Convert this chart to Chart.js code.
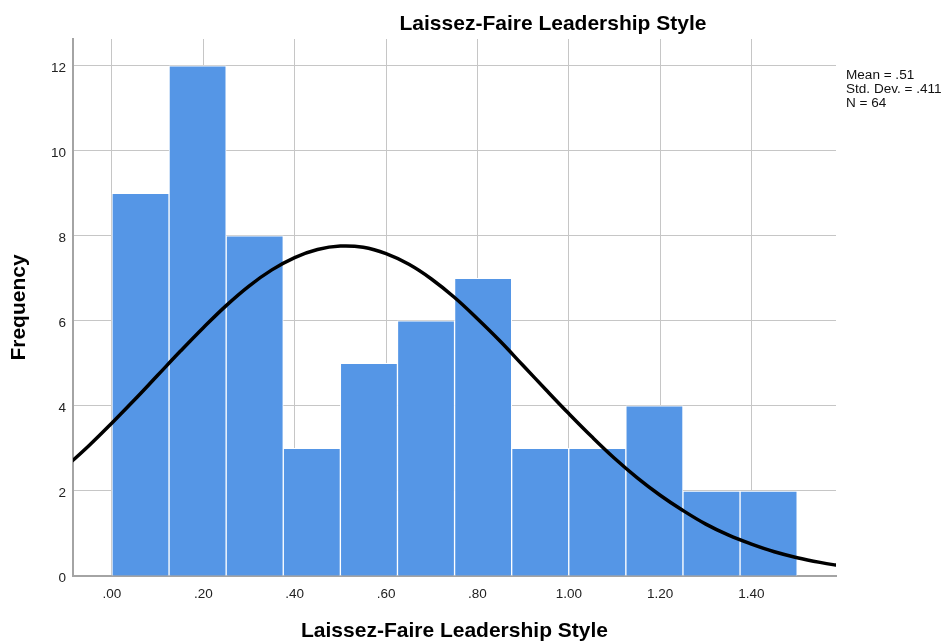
<!DOCTYPE html>
<html>
<head>
<meta charset="utf-8">
<title>Laissez-Faire Leadership Style</title>
<script src="https://cdn.jsdelivr.net/npm/chart.js@4.4.1/dist/chart.umd.min.js"></script>
<style>
  body { margin: 0; background: #fff; }
  #wrap { position: relative; width: 949px; height: 642px; }
  .title {
    position: absolute; top: 11.5px; left: 553px; transform: translateX(-50%);
    font-family: "Liberation Sans", Arial, sans-serif; font-weight: bold;
    font-size: 21px; line-height: 21px;
    color: #000; white-space: nowrap;
  }
  .stats {
    position: absolute; top: 68px; left: 846px;
    font-family: "Liberation Sans", Arial, sans-serif;
    font-size: 12px; line-height: 14px;
    color: #111; white-space: nowrap;
    transform: scaleX(1.13); transform-origin: left top;
  }
</style>
</head>
<body>
<div id="wrap">
  <canvas id="chart" width="949" height="642"></canvas>
  <div class="title">Laissez-Faire Leadership Style</div>
  <div class="stats">Mean = .51<br>Std. Dev. = .411<br>N = 64</div>
</div>
<script>
// histogram bins (width .125), centres on the x axis
const binCenters = [0.0625, 0.1875, 0.3125, 0.4375, 0.5625, 0.6875, 0.8125, 0.9375, 1.0625, 1.1875, 1.3125, 1.4375];
const frequencies = [9, 12, 8, 3, 5, 6, 7, 3, 3, 4, 2, 2];

// normal curve
const curveX = [-0.10, -0.05, 0.00, 0.05, 0.10, 0.15, 0.20, 0.25, 0.30, 0.35, 0.40, 0.45,
  0.50, 0.55, 0.60, 0.65, 0.70, 0.75, 0.80, 0.85, 0.90, 0.95, 1.00, 1.05,
  1.10, 1.15, 1.20, 1.25, 1.30, 1.35, 1.40, 1.45, 1.50, 1.55, 1.60];
const curveY = [2.58, 3.07, 3.60, 4.15, 4.72, 5.29, 5.84, 6.36, 6.82, 7.20, 7.49, 7.68,
  7.76, 7.73, 7.58, 7.33, 6.98, 6.55, 6.05, 5.52, 4.95, 4.38, 3.82, 3.28,
  2.77, 2.31, 1.90, 1.54, 1.22, 0.96, 0.75, 0.57, 0.43, 0.32, 0.23];

const xTicks = [0, 0.2, 0.4, 0.6, 0.8, 1.0, 1.2, 1.4];
const xTickLabels = ['.00', '.20', '.40', '.60', '.80', '1.00', '1.20', '1.40'];
const yTicks = [0, 2, 4, 6, 8, 10, 12];

const FONT = '"Liberation Sans", Arial, sans-serif';

new Chart(document.getElementById('chart'), {
  type: 'bar',
  data: {
    datasets: [
      {
        type: 'line',
        data: curveX.map((x, i) => ({ x: x, y: curveY[i] })),
        borderColor: '#000',
        borderWidth: 3.5,
        pointRadius: 0,
        tension: 0.4,
        fill: false,
        order: 0,
      },
      {
        type: 'bar',
        data: binCenters.map((x, i) => ({ x: x, y: frequencies[i] })),
        backgroundColor: '#5596e6',
        borderColor: '#ffffff',
        borderWidth: 1,
        borderSkipped: 'start',
        barPercentage: 1,
        categoryPercentage: 1,
        order: 1,
      },
    ],
  },
  options: {
    responsive: false,
    animation: false,
    layout: { padding: { top: 39, right: 113, bottom: 0, left: 0 } },
    plugins: { legend: { display: false }, tooltip: { enabled: false } },
    scales: {
      x: {
        type: 'linear',
        offset: false,
        min: -0.0853,
        max: 1.585,
        afterBuildTicks: (scale) => { scale.ticks = xTicks.map((v) => ({ value: v })); },
        afterFit: (scale) => { scale.height = 66; },
        grid: { color: '#c6c6c6', lineWidth: 1, drawTicks: false, offset: false },
        border: { color: '#a4a4a4', width: 2 },
        ticks: {
          padding: 10,
          color: '#222',
          font: { family: FONT, size: 13.5 },
          maxRotation: 0,
          callback: (v, i) => xTickLabels[i],
        },
        title: {
          display: true,
          text: 'Laissez-Faire Leadership Style',
          color: '#000',
          font: { family: FONT, size: 21, weight: 'bold', lineHeight: 1 },
          padding: { top: 0, bottom: 0 },
        },
      },
      y: {
        min: 0,
        max: 12.63,
        afterBuildTicks: (scale) => { scale.ticks = yTicks.map((v) => ({ value: v })); },
        afterFit: (scale) => { scale.width = 73; },
        grid: { color: '#c6c6c6', lineWidth: 1, drawTicks: false },
        border: { color: '#a4a4a4', width: 2 },
        ticks: {
          padding: 7,
          labelOffset: 2.5,
          color: '#222',
          font: { family: FONT, size: 13.5 },
        },
        title: {
          display: true,
          text: 'Frequency',
          color: '#000',
          font: { family: FONT, size: 21, weight: 'bold', lineHeight: 1 },
          padding: { top: 9, bottom: 0 },
        },
      },
    },
  },
});
</script>
</body>
</html>
